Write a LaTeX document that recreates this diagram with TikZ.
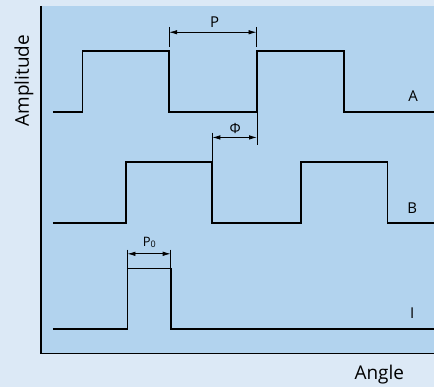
\documentclass[tikz,border=0pt]{standalone}
\usepackage{fontspec}
\setmainfont{Open Sans}
\usetikzlibrary{arrows.meta}
\definecolor{outerblue}{HTML}{DCE9F6}
\definecolor{innerblue}{HTML}{B2D3EE}
\tikzset{
  signal/.style={line width=1.7pt, line join=miter},
  dimline/.style={line width=0.8pt},
  dimarrow/.style={line width=0.8pt, {Latex[length=8pt,width=4.5pt]}-{Latex[length=8pt,width=4.5pt]}},
  axislabel/.style={font=\fontsize{19}{19}\selectfont, inner sep=0pt},
  siglabel/.style={font=\fontsize{15}{15}\selectfont, inner sep=0pt},
}

\begin{document}
\begin{tikzpicture}[x=1pt, y=-1pt]
		%%%%% START %%%%%

		\fill[outerblue] (0, 0) rectangle (435, 388);
		\fill[innerblue] (41, 6) rectangle (435, 354);
		\draw[line width=1.6pt] (41, 6) -- (41, 354) -- (435, 354);

		% signal A
		\draw[signal] (53, 112) -- (82.7, 112) -- (82.7, 51) -- (169.5, 51) -- (169.5, 112)
			-- (257.5, 112) -- (257.5, 51) -- (345, 51) -- (345, 112) -- (435, 112);
		\node[siglabel] (labA) at (414, 96.7) {A};

		% period P
		\coordinate (pl) at (169.5, 32.3);
		\coordinate (pr) at (257, 32.3);
		\draw[dimline] (169.5, 27) -- (169.5, 47);
		\draw[dimline] (257, 27) -- (257, 47);
		\draw[dimarrow] (pl) -- (pr);
		\node[siglabel] (labP) at (215, 21.7) {P};

		% signal B
		\draw[signal] (53, 223.3) -- (126.3, 223.3) -- (126.3, 162.3) -- (212.7, 162.3) -- (212.7, 223.3)
			-- (301.7, 223.3) -- (301.7, 162.3) -- (388.3, 162.3) -- (388.3, 223.3) -- (435, 223.3);
		\node[siglabel] (labB) at (413, 208.3) {B};

		% phase shift
		\coordinate (fl) at (212.7, 137.7);
		\coordinate (fr) at (257.5, 137.7);
		\draw[dimline] (212.7, 133) -- (212.7, 162.3);
		\draw[dimline] (257.5, 113) -- (257.5, 145);
		\draw[dimarrow] (fl) -- (fr);
		\node[font=\fontsize{14}{14}\selectfont, inner sep=0pt] (labPhi) at (235.7, 129) {Φ};

		% signal I
		\draw[signal] (53, 329.3) -- (127.7, 329.3) -- (127.7, 269) -- (171, 269) -- (171, 329.3) -- (435, 329.3);
		\node[siglabel] (labI) at (413, 313.3) {I};

		% pulse width P0
		\coordinate (ql) at (127.7, 254.3);
		\coordinate (qr) at (171, 254.3);
		\draw[dimline] (127.7, 250) -- (127.7, 269);
		\draw[dimline] (171, 250) -- (171, 269);
		\draw[dimarrow] (ql) -- (qr);
		\node[font=\fontsize{13}{13}\selectfont, inner sep=0pt] (labPo) at (149.7, 243.3)
			{P{\fontsize{9}{9}\selectfont\raisebox{-1pt}{0}}};

		% axes
		\node[axislabel, rotate=90] (labAmp) at (24, 80.7) {Amplitude};
		\node[axislabel] (labAng) at (380, 375) {Angle};

		%%%%% END %%%%%
	\end{tikzpicture}
\end{document}
